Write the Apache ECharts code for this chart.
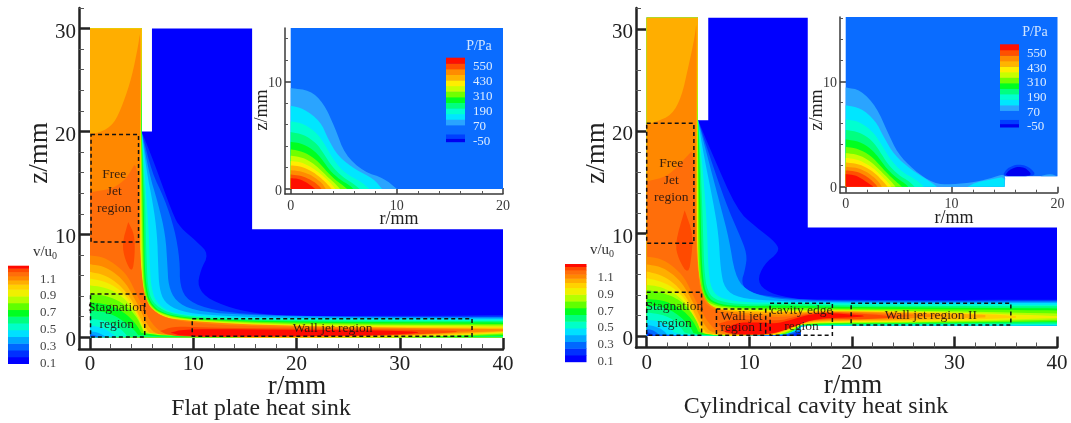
<!DOCTYPE html>
<html><head><meta charset="utf-8">
<style>html,body{margin:0;padding:0;background:#fff}#c{width:1071px;height:423px}</style>
<script src="https://cdn.jsdelivr.net/npm/echarts@6/dist/echarts.min.js"></script></head>
<body><div id="c"></div>
<script>
// ---- colour scale levels
const vLevels=[0.10,0.18,0.26,0.34,0.42,0.50,0.58,0.66,0.74,0.82,0.90,0.98,1.04,1.09,1.14,1.19,1.23,1.26];
const vColors=['#0000ff','#0030ff','#0068ff','#00a8ff','#00e0ff','#00ffc8','#00ff80','#00ff20','#60ff00','#b4ff00','#f0f000','#ffd200','#ffae00','#ff8800','#ff6e0a','#ff4a00','#ff0a00'];
const vTicks=[0.1,0.3,0.5,0.7,0.9,1.1];
const pLevels=[-50,-23,12,85,130,175,220,265,310,355,400,445,490,535,580,625];
const pColors=['#0000f0','#0040ff','#0a6cff','#2aa4ff','#00e6ff','#00ffd0','#00ff80','#00ff20','#70ff00','#c8ff00','#ffee00','#ffb400','#ff8c00','#ff5000','#ff1000'];
const pTicks=[-50,70,190,310,430,550];
const rTicks=[0,10,20,30,40], rMinor=[2,4,6,8,12,14,16,18,22,24,26,28,32,34,36,38];
const zTicks=[0,10,20,30], zMinor=[2,4,6,8,12,14,16,18,22,24,26,28,32];
const irTicks=[0,10,20], irMinor=[2,4,6,8,12,14,16,18];
const izTicks=[0,10], izMinor=[2,4,6,8,12,14,16];

// ---- flat plate velocity field: contours in [r,z] mm
const flatDomain=[[0,0],[40,0],[40,10.5],[15.7,10.5],[15.7,30],[6,30],[6,20],[5,20],[5,30],[0,30]];
const flatEnvelopes=[
[1,[[5,20],[6.2,17],[8,12],[8.7,10.7],[10.4,9.25],[11.5,8.1],[10.7,6.5],[10.4,4.9],[11.6,3.6],[14.5,2.6],[17.5,2.15],[22,2.05],[40,2.14]]],
[2,[[5,20],[6,16],[7.2,13.5],[8.2,10.5],[8.7,7.5],[8.7,5],[9.5,3.5],[12,2.6],[16,2.2],[24,2],[40,2]]],
[3,[[5,20],[5.7,16],[6.6,13],[7.3,10],[7.5,7],[7.6,5],[8.3,3.5],[10,2.6],[14,2.2],[24,1.95],[40,1.92]]],
[4,[[5,20],[5.5,16],[6.1,13],[6.5,10],[6.6,7],[6.7,4.8],[7.2,3.4],[8.7,2.5],[12,2.1],[20,1.85],[40,1.81]]],
[5,[[5,20],[5.3,16],[5.5,13],[5.7,10],[5.8,7],[5.9,5],[6.4,3.3],[8,2.3],[12,1.95],[20,1.75],[40,1.7]]],
[6,[[5,20],[5.2,16],[5.35,13],[5.4,10],[5.5,7],[5.6,5],[6,3.4],[7.5,2.35],[11,1.85],[20,1.62],[40,1.58]]],
[7,[[5,20],[5.1,16],[5.2,13],[5.25,10],[5.3,7],[5.45,5],[5.8,3.4],[7,2.3],[10,1.8],[20,1.5],[40,1.45]]],
[8,[[4.97,20],[5.05,16],[5.1,13],[5.15,10],[5.2,7],[5.3,5],[5.65,3.45],[6.7,2.35],[9.5,1.75],[20,1.38],[40,1.3]]],
[9,[[4.95,20],[5,13],[5.05,10],[5.1,7],[5.2,5],[5.5,3.5],[6.5,2.4],[9,1.7],[20,1.25],[40,1.17]]],
[10,[[4.92,20],[4.95,10],[5,7],[5.1,5],[5.4,3.5],[6.4,2.35],[8.8,1.62],[20,1.15],[40,1.05]]],
[11,[[4.9,20],[4.9,10],[4.95,7],[5.05,5],[5.35,3.5],[6.3,2.3],[8.6,1.55],[20,1.08],[40,.95]]],
[12,[[4.88,20],[4.85,10],[4.9,7],[5,5],[5.3,3.5],[6.2,2.25],[8.5,1.5],[20,1],[40,.85]]]];
const flatUpper=[
[13,[[0,19.8],[1,19.9],[2.3,20.7],[3.2,22.7],[4.05,25.3],[4.7,28.5],[4.88,30],[4.85,20],[4.8,10],[4.9,7],[5.1,5],[5.4,3.5],[6.3,2.3],[8.5,1.6],[20,1.05],[40,.78]]],
[14,[[0,14.1],[2,14.4],[3.2,15.1],[4,16.2],[4.4,17],[4.72,15],[4.75,10],[5,6],[5.3,4],[6,2.6],[8,1.6],[14,1.1],[25,.9],[37,.75]]]];
const flatLower=[
[13,[[0,7.96],[1.3,7.8],[2.6,7],[3.7,5.9],[4.5,4.2],[5.3,2.6],[6,1.3],[7.1,.3],[9,.15],[14,.05],[25,.08],[37,.62],[40,.72]]],
[12,[[0,7.1],[1.3,6.9],[2.5,6.2],[3.5,5.2],[4.3,3.8],[5,2.4],[5.6,1.1],[6.5,.2],[9,.08],[20,.06],[30,.2],[40,.62]]],
[11,[[0,6.35],[1.3,6.1],[2.5,5.4],[3.5,4.4],[4.2,3.3],[4.8,2],[5.4,.9],[6,.1],[12,.05],[25,.05],[32,.2],[40,.55]]],
[10,[[0,5.7],[1.2,5.5],[2.5,4.9],[3.5,4],[4.2,3],[4.8,1.7],[5.3,.7],[5.8,.05],[15,.03],[28,.03],[34,.15],[40,.48]]],
[9,[[0,5.05],[1.2,4.9],[2.5,4.4],[3.5,3.6],[4.3,2.6],[4.9,1.4],[5.5,0],[30,.02],[35,.1],[40,.42]]],
[8,[[0,4.2],[1.3,4.1],[2.7,3.6],[3.7,2.9],[4.5,2],[5,1],[5.4,0],[31,0],[40,.35]]],
[7,[[0,3.4],[1.5,3.25],[2.8,2.75],[3.8,2],[4.6,1.1],[5.2,0],[32,0],[40,.22]]],
[6,[[0,2.6],[1.5,2.45],[2.6,2],[3.6,1.3],[4.4,.6],[4.8,0],[34,0],[40,.12]]],
[5,[[0,1.8],[1.3,1.65],[2.3,1.25],[3.1,.7],[3.7,0]]],
[4,[[0,1.15],[1,1],[1.8,.6],[2.3,.25],[2.6,0]]],
[3,[[0,.6],[.8,.45],[1.3,.2],[1.6,0]]],
[2,[[0,.3],[.5,.2],[.9,0]]]];
const flatCores=[
[15,[[3.7,11.2],[3.1,9.1],[3.4,7.5],[4.1,6.2],[4.35,8.1],[4.3,10]]],
[15,[[6.8,.6],[8,1.05],[10,1],[14,.9],[28,.78],[38,.6],[28,.12],[14,.05],[9,.07],[7.5,.25]]],
[16,[[7.8,.45],[9,.78],[14,.78],[28,.68],[33,.5],[28,.16],[14,.07],[9,.1]]]];

// ---- cylindrical cavity velocity field
const cavDomain=[[0,0],[15,0],[15,1],[40,1],[40,10.6],[15.7,10.6],[15.7,31.1],[6,31.1],[6,21.1],[5,21.1],[5,31.1],[0,31.1]];
const cavEnvelopes=[
[1,[[5,21.1],[6.3,18],[8.8,12.3],[10.6,10.7],[12.7,9.05],[12.9,8.2],[11.4,7],[10.75,5.3],[11.9,4.2],[14.5,3.6],[17.4,3.55],[25,3.5],[40,3.55]]],
[2,[[5,21.1],[6,18],[7.7,13],[9,10],[9.8,8],[9.6,6.5],[9.2,5.2],[10,4.2],[12.5,3.8],[16,3.5],[25,3.42],[40,3.45]]],
[3,[[5,21.1],[5.8,18],[7.3,12.3],[8,9.6],[8.6,6],[9.6,4.5],[11.9,3.7],[16,3.4],[25,3.32],[40,3.35]]],
[4,[[5,21.1],[5.5,18],[6.5,13],[7,10],[7.2,6.5],[7.6,4.6],[9,3.7],[12,3.45],[16,3.3],[25,3.22],[40,3.22]]],
[5,[[5,21.1],[5.3,18],[5.7,13.5],[5.9,10],[6,6.5],[6.3,4.5],[7.3,3.6],[10,3.25],[14,3.3],[18,3.2],[25,3.1],[40,3.05]]],
[6,[[5,21.1],[5.2,18],[5.4,13],[5.5,10],[5.6,6.5],[5.9,4.3],[6.9,3.4],[9.5,3.05],[14,3.15],[18,3],[25,2.95],[40,2.9]]],
[7,[[5,21.1],[5.1,18],[5.25,13],[5.3,10],[5.4,6.5],[5.7,4.2],[6.6,3.2],[9,2.9],[14,3],[18,2.85],[25,2.8],[40,2.7]]],
[8,[[4.97,21],[5.1,13],[5.15,10],[5.25,6.5],[5.55,4.1],[6.4,3.1],[9,2.75],[14,2.75],[18,2.7],[25,2.65],[40,2.5]]],
[9,[[4.95,21],[5,10],[5.1,6.5],[5.4,4],[6.2,3],[9,2.65],[14,2.55],[18,2.6],[25,2.5],[40,2.2]]],
[10,[[4.92,21],[4.95,10],[5,6.5],[5.3,3.9],[6,2.9],[8.5,2.55],[14,2.45],[18,2.5],[25,2.4],[33,2.2],[40,1.95]]],
[11,[[4.9,21],[4.9,10],[4.97,6.5],[5.25,3.85],[5.95,2.85],[8.3,2.5],[14,2.4],[18,2.48],[25,2.38],[33,2.15],[36,1.95]]],
[12,[[4.88,21],[4.88,10],[4.95,6.5],[5.2,3.8],[5.9,2.8],[8,2.45],[14,2.3],[18,2.45],[25,2.3],[31,2.15],[33,2.05]]]];
const cavUpper=[
[13,[[0,20.7],[.8,20.9],[2.46,21.6],[3.4,23.4],[4.06,26.3],[4.7,29.3],[4.88,31.1],[4.85,21],[4.85,10],[5.05,6],[5.6,3.6],[6.6,2.7],[8.5,2.3],[12,2.1],[14,2.1],[16,2.35],[19,2.4],[26,2.2],[29,2.05]]],
[14,[[0,15.1],[2.1,15.6],[4.06,17.7],[4.5,18.2],[4.75,15],[4.75,10],[5,6],[5.4,3.6],[6.4,2.6],[8,2.15],[12,1.85],[14,1.9],[16,2.3],[19,2.35],[24,2.1],[26,2]]]];
const cavLower=[
[13,[[0,7.75],[1.3,7.6],[2.6,6.8],[3.7,5.7],[4.5,4],[5.3,2.5],[6,1.3],[7,.3],[10,.15],[12,.15],[13,.45],[14.5,1.05],[15,1.35],[16.5,1.6],[19,1.65],[24,1.75],[26,2],[29,2.05]]],
[12,[[0,7],[1.3,6.8],[2.5,6.1],[3.5,5.1],[4.3,3.7],[5,2.3],[5.6,1.1],[6.4,.2],[10,.1],[12,.1],[13,.38],[14.5,.95],[15,1.25],[16.5,1.5],[19,1.55],[25,1.65],[27,1.85],[30,2.02],[33,2.05]]],
[11,[[0,6.3],[1.3,6],[2.5,5.3],[3.5,4.3],[4.2,3.2],[4.8,1.9],[5.4,.8],[6,.1],[12,.08],[13,.33],[14.5,.9],[15,1.2],[16.5,1.42],[19,1.48],[25,1.55],[30,1.7],[36,1.95]]],
[10,[[0,5.65],[1.2,5.4],[2.5,4.8],[3.5,3.9],[4.2,2.9],[4.8,1.6],[5.3,.6],[5.8,.05],[12.3,.05],[13,.28],[14.5,.85],[15,1.15],[16.5,1.35],[19,1.4],[25,1.48],[32,1.6],[40,1.95]]],
[9,[[0,5],[1.2,4.85],[2.5,4.3],[3.5,3.5],[4.3,2.5],[4.9,1.3],[5.4,0],[12.4,0],[13,.24],[14.5,.8],[15,1.12],[16.5,1.3],[19,1.33],[25,1.4],[32,1.5],[40,1.75]]],
[8,[[0,4.5],[1.3,4.3],[2.7,3.8],[3.7,3.1],[4.5,2.1],[5.1,1],[5.35,0],[12.5,0],[13.2,.22],[14.5,.72],[15,1.1],[16.5,1.26],[19,1.28],[25,1.33],[32,1.42],[40,1.6]]],
[7,[[0,3.6],[1.5,3.5],[2.8,3],[3.9,2.2],[4.7,1.2],[5.2,0],[13.3,0],[14.5,.65],[15,1.08],[16.5,1.2],[19,1.22],[25,1.27],[32,1.32],[40,1.45]]],
[6,[[0,3],[1.5,2.85],[2.6,2.4],[3.6,1.6],[4.3,.8],[4.7,0],[13.2,0],[14.5,.6],[15,1.06],[19,1.16],[40,1.35]]],
[5,[[0,2.3],[1.5,2.1],[2.6,1.6],[3.3,.9],[3.9,0],[13.1,0],[14.5,.55],[15,1.04],[19,1.1],[40,1.2]]],
[4,[[0,1.6],[1.2,1.45],[2.2,.95],[2.9,0],[13,0],[14.5,.5],[15,1.02],[19,1.05],[40,1.1]]],
[3,[[0,1.1],[1,.9],[1.7,.5],[2.1,0],[13,0],[14.5,.45],[15,1],[19,1.02],[40,1.04]]],
[2,[[0,.7],[.8,.5],[1.3,0],[13.3,0],[14,.3],[15,.55]]],
[1,[[0,.4],[.5,.2],[.8,0],[13.7,0],[14.4,.25],[15,.38]]]];
const cavCores=[
[15,[[3.7,12.3],[2.76,9.06],[3.1,7.5],[4.06,5.95],[4.4,8],[4.5,10]]],
[15,[[7,1.2],[8.5,1.65],[11,1.6],[13,1.5],[14,1.75],[16,2.25],[19,2.32],[23,2.02],[25,1.85],[21,1.62],[18,1.68],[16,1.55],[14.5,1.12],[13,.5],[12,.15],[9,.1],[7.5,.3]]],
[16,[[7.6,.4],[8.5,1.3],[11,1.35],[12.5,1.2],[14,1.55],[16,2.15],[18,2.25],[22,1.95],[19,1.78],[16.5,1.7],[14.5,.98],[13,.42],[12,.2],[9,.15]]]];

// ---- pressure insets
const flatInsetDomain=[[0,0],[20,0],[20,15],[0,15]];
const flatPressure=[
[3,[[0,9.4],[1.8,9.2],[3.1,8],[4.2,5.65],[5.1,3.2],[6.9,1.6],[8.8,1],[10,0]]],
[4,[[0,7.75],[1.2,7.5],[2.8,6.3],[3.5,4.7],[4.5,3],[6.2,1.75],[7.8,.97],[8.6,0]]],
[5,[[0,6.3],[1.2,6.1],[2.5,5.2],[3.3,4],[4.1,2.6],[5.2,1.4],[6.6,.7],[7.4,0]]],
[6,[[0,5.3],[1.2,5.1],[2.4,4.3],[3.1,3.3],[3.9,2.1],[4.9,1.1],[5.9,.5],[6.5,0]]],
[7,[[0,4.4],[1.2,4.2],[2.3,3.5],[3,2.7],[3.7,1.7],[4.6,.9],[5.6,.3],[5.9,0]]],
[8,[[0,3.7],[1.1,3.5],[2.2,2.9],[2.9,2.2],[3.6,1.4],[4.4,.7],[5.1,.2],[5.3,0]]],
[9,[[0,3.1],[1.1,2.95],[2.1,2.4],[2.8,1.8],[3.5,1.1],[4.2,.5],[4.65,0]]],
[10,[[0,2.6],[1,2.5],[2,2],[2.7,1.5],[3.4,.9],[3.9,.4],[4.2,0]]],
[11,[[0,2.2],[1,2.1],[2,1.65],[2.7,1.15],[3.2,.7],[3.6,.3],[3.85,0]]],
[12,[[0,1.75],[1,1.65],[1.9,1.3],[2.5,.9],[3,.5],[3.3,0]]],
[13,[[0,1.35],[.9,1.25],[1.7,.95],[2.3,.6],[2.7,.25],[2.9,0]]],
[14,[[0,1],[.8,.95],[1.5,.6],[2,.25],[2.3,0]]]];
const cavInsetDomain=[[0,0],[15,0],[15,1],[20,1],[20,16.15],[0,16.15]];
const cavPressure=[
[3,[[0,9.45],[1.4,9.2],[2.9,7.6],[4,5.1],[4.9,3.2],[6.4,1.6],[8.3,.3],[10,.2],[12.3,.45],[14,.9],[15.1,1.25],[15,0]]],
[3,[[18.4,1],[18.9,1.15],[19.4,1.2],[20,1]]],
[4,[[0,7.75],[1.4,7.5],[2.8,6.3],[3.6,4.7],[4.6,3],[6.2,1.6],[7.8,.6],[8.6,0]]],
[4,[[11.5,0],[12.3,.4],[14,.75],[15,.95],[15,0]]],
[5,[[0,6.4],[1.3,6.2],[2.6,5.2],[3.4,4],[4.2,2.6],[5.3,1.4],[6.6,.7],[7.4,0]]],
[6,[[0,5.4],[1.3,5.2],[2.5,4.4],[3.2,3.4],[4,2.1],[5,1.1],[6,.5],[6.5,0]]],
[7,[[0,4.5],[1.3,4.3],[2.4,3.6],[3.1,2.8],[3.8,1.8],[4.7,.9],[5.6,.3],[5.9,0]]],
[8,[[0,3.8],[1.2,3.6],[2.3,3],[3,2.3],[3.7,1.5],[4.5,.7],[5.1,.2],[5.3,0]]],
[9,[[0,3.2],[1.2,3.05],[2.2,2.5],[2.9,1.9],[3.6,1.2],[4.3,.5],[4.7,0]]],
[10,[[0,2.75],[1.1,2.6],[2.1,2.1],[2.8,1.6],[3.5,.9],[4,.4],[4.3,0]]],
[11,[[0,2.3],[1.1,2.2],[2.1,1.75],[2.8,1.25],[3.3,.75],[3.7,.3],[3.95,0]]],
[12,[[0,1.9],[1.1,1.8],[2,1.4],[2.6,.95],[3.1,.5],[3.4,0]]],
[13,[[0,1.55],[1,1.45],[1.8,1.1],[2.4,.65],[2.8,.25],[3,0]]],
[14,[[0,1.2],[.9,1.1],[1.6,.7],[2.2,.3],[2.6,0]]],
[1,[[14.9,1.2],[15.2,1.7],[15.8,2],[16.3,2.12],[17,2],[17.5,1.7],[17.9,1.25],[17.6,1],[15.1,1]]],
[0,[[15.1,1.15],[15.4,1.55],[15.9,1.8],[16.3,1.9],[16.9,1.8],[17.3,1.5],[17.5,1.2],[17.3,1.03],[15.3,1.03]]]];

// ---- annotated regions: name lines, box [r0,z0,r1,z1], label centre [r,z], line spacing
const flatRegions=[
['Free\nJet\nregion',[0.1,9.25,4.7,19.7],[2.35,14.2],17],
['Stagnation\nregion',[0.05,.03,5.3,4.2],[2.6,2.05],17],
['Wall jet region',[9.9,.1,37,1.8],[23.5,.9],17]];
const cavRegions=[
['Free\nJet\nregion',[0,9.06,4.6,20.8],[2.4,15.2],17],
['Stagnation\nregion',[0,.07,5.35,4.27],[2.7,2.1],17],
['Wall jet\nregion I',[6.8,.07,11.6,2.64],[9.25,1.39],11],
['cavity edge\nregion',[12.03,.07,18.1,3.2],[15.1,1.73],16.5],
['Wall jet region II',[19.93,1.07,35.5,3.2],[27.7,2.05],17]];

const FONT='"Liberation Serif","Times New Roman",serif';
function chaikin(p,n){
  for(let k=0;k<n;k++){const o=[p[0]];
    for(let i=0;i<p.length-1;i++){const a=p[i],b=p[i+1];
      o.push([a[0]*.75+b[0]*.25,a[1]*.75+b[1]*.25],[a[0]*.25+b[0]*.75,a[1]*.25+b[1]*.75]);}
    o.push(p[p.length-1]);p=o;}
  return p;
}
function fieldPolys(domain,head,envs,upper,lower,cores,closure){
  const out=[[0,domain]];
  envs.forEach(([b,p])=>out.push([b,head.concat(chaikin(p,2),closure(p))]));
  upper.forEach(([b,p])=>out.push([b,chaikin(p,2).concat(closure(p))]));
  lower.forEach(([b,p])=>out.push([b,chaikin(p,2).concat(closure(p))]));
  cores.forEach(([b,p])=>out.push([b,chaikin(p.concat([p[0]]),2)]));
  return out;
}
const flatClose=p=>{const e=p[p.length-1];return [[e[0],0],[0,0]];};
const cavClose=p=>{const e=p[p.length-1];return e[0]>15?[[e[0],1],[15,1],[15,0],[0,0]]:[[15,0],[0,0]];};
function pressurePolys(domain,list){
  const out=[[2,domain]];
  list.forEach(([b,p])=>{const a=p[0][0]===0;out.push([b,a?chaikin(p,2).concat([[0,0]]):chaikin(p,1)]);});
  return out;
}
const flatField=fieldPolys(flatDomain,[[0,30],[5,30]],flatEnvelopes,flatUpper,flatLower,flatCores,flatClose);
const cavField=fieldPolys(cavDomain,[[0,31.1],[5,31.1]],cavEnvelopes,cavUpper,cavLower,cavCores,cavClose);

function polySeries(g,polys,colors){
  return {type:'custom',xAxisIndex:g*2,yAxisIndex:g*2,silent:true,animation:false,clip:false,
    data:polys.map((_,i)=>[i]),encode:{x:0,y:0},
    renderItem:(ps,api)=>{const [b,pts]=polys[ps.dataIndex];
      return {type:'polygon',shape:{points:pts.map(q=>api.coord(q))},style:{fill:colors[b]}};}};
}
function regionSeries(g,regs){
  return {type:'custom',xAxisIndex:g*2,yAxisIndex:g*2,silent:true,animation:false,clip:false,z:5,
    data:regs.map((_,i)=>[i]),encode:{x:0,y:0},
    renderItem:(ps,api)=>{const [t,b,c,lh]=regs[ps.dataIndex];
      const p=api.coord([b[0],b[3]]),q=api.coord([b[2],b[1]]),m=api.coord(c);
      return {type:'group',children:[
       {type:'rect',shape:{x:p[0],y:p[1],width:q[0]-p[0],height:q[1]-p[1]},style:{fill:null,stroke:'#111',lineWidth:1.5,lineDash:[4,3]}},
       {type:'text',x:m[0],y:m[1],style:{text:t,fill:'rgba(35,20,15,.9)',font:'13.5px '+FONT,lineHeight:lh,align:'center',verticalAlign:'middle'}}]};}};
}
function barSeries(g,levels,colors){
  return {type:'custom',xAxisIndex:g,yAxisIndex:g,silent:true,animation:false,z:6,
    data:colors.map((_,i)=>[i]),encode:{x:0,y:0},
    renderItem:(ps,api)=>{const i=ps.dataIndex;
      const a=api.coord([0,levels[i]]),b=api.coord([1,levels[i+1]]);
      return {type:'rect',shape:{x:a[0],y:b[1],width:b[0]-a[0],height:a[1]-b[1]+.5},style:{fill:colors[i]}};}};
}
const grids=[],xAxes=[],yAxes=[],series=[];
function plotAxes(box,xr,yr,major,minor,s){
  const g=grids.length;
  grids.push({left:box[0],top:box[1],width:box[2]-box[0],height:box[3]-box[1],containLabel:false});
  const lab={fontFamily:FONT,fontSize:s.font,color:s.color};
  const lineStyle={color:s.color,width:s.lw};
  const axis=(r,maj,min,pos,isX)=>[
    {type:'value',gridIndex:g,min:r[0],max:r[1],position:pos,splitLine:{show:false},
     axisLine:{show:true,onZero:false,lineStyle},
     axisTick:{show:true,inside:true,length:s.mt,customValues:maj,lineStyle:{color:s.color,width:s.lw}},
     axisLabel:{show:true,customValues:maj,...lab,margin:isX?s.mx:s.my,
       formatter:isX?undefined:(v=>'{a|'+v+'}'),
       rich:isX?undefined:{a:{...lab,padding:[s.pad,0,0,0]}}}},
    {type:'value',gridIndex:g,min:r[0],max:r[1],position:pos,splitLine:{show:false},
     axisLine:{show:false,onZero:false},
     axisTick:{show:true,inside:true,length:s.nt,customValues:min,lineStyle:{color:'#555',width:1}},
     axisLabel:{show:false}}];
  const xa=axis(xr,major[0],minor[0],'bottom',true),ya=axis(yr,major[1],minor[1],'left',false);
  xAxes.push(xa[0],xa[1]);yAxes.push(ya[0],ya[1]);
  return g;
}
const mainS={font:21,color:'#222',lw:2.5,mt:11,nt:5,mx:5,my:3,pad:7};
const insS={font:14,color:'#3a3a3a',lw:1.5,mt:6,nt:3,mx:5,my:3,pad:4};
plotAxes([79,8,503,349],[-1.067,40],[-1.136,32],[rTicks,zTicks],[rMinor,zMinor],mainS);
plotAxes([285,28,503,194],[-.538,20],[-.466,15],[irTicks,izTicks],[irMinor,izMinor],insS);
plotAxes([636,8,1057,347.5],[-1.044,40],[-1.124,32.06],[rTicks,zTicks],[rMinor,zMinor],mainS);
plotAxes([840,17,1057.5,192.7],[-.539,20],[-.571,16.15],[irTicks,izTicks],[irMinor,izMinor],insS);
series.push(polySeries(0,flatField,vColors),regionSeries(0,flatRegions));
series.push(polySeries(1,pressurePolys(flatInsetDomain,flatPressure),pColors));
series.push(polySeries(2,cavField,vColors),regionSeries(2,cavRegions));
series.push(polySeries(3,pressurePolys(cavInsetDomain,cavPressure),pColors));

function colorbar(box,levels,colors,ticks,font,color,margin){
  const g=grids.length, idx=xAxes.length;
  grids.push({left:box[0],top:box[1],width:box[2]-box[0],height:box[3]-box[1]});
  xAxes.push({type:'value',gridIndex:g,min:0,max:1,show:false});
  yAxes.push({type:'value',gridIndex:g,z:8,min:levels[0],max:levels[levels.length-1],position:'right',
    splitLine:{show:false},axisLine:{show:false},axisTick:{show:false},
    axisLabel:{show:true,customValues:ticks,fontFamily:FONT,fontSize:font,color,margin,
      formatter:v=>Math.abs(v)<5?v.toFixed(1):String(v)}});
  series.push(barSeries(idx,levels,colors));
}
colorbar([8,265.7,29,363.5],vLevels,vColors,vTicks,13,'#444',11);
colorbar([565,264,586.5,361.7],vLevels,vColors,vTicks,13,'#444',11);
colorbar([446,57.7,465,141.7],pLevels,pColors,pTicks,13,'#dcecff',8);
colorbar([1000,44.3,1019,127],pLevels,pColors,pTicks,13,'#dcecff',8);

const T=(x,y,text,size,extra)=>({type:'text',x,y,silent:true,z:20,
  style:Object.assign({text,font:size+'px '+FONT,fill:'#222',align:'center',verticalAlign:'middle'},extra||{})});
const rich={a:{fontFamily:FONT,fontSize:15,fill:'#333',color:'#333'},b:{fontFamily:FONT,fontSize:10,fill:'#333',color:'#333',verticalAlign:'bottom',padding:[8,0,0,0]}};
const graphic=[
 T(297,387,'r/mm',27),T(853,386,'r/mm',27),
 Object.assign(T(40,153,'z/mm',27),{rotation:Math.PI/2}),
 Object.assign(T(597,153,'z/mm',27),{rotation:Math.PI/2}),
 T(399,219,'r/mm',18),T(954,218,'r/mm',18),
 Object.assign(T(262,110,'z/mm',18),{rotation:Math.PI/2}),
 Object.assign(T(817,110,'z/mm',18),{rotation:Math.PI/2}),
 T(261,409,'Flat plate heat sink',23.7),T(816,407,'Cylindrical cavity heat sink',24),
 T(479,46,'P/Pa',14,{fill:'#cfe4ff'}),T(1035,32,'P/Pa',14,{fill:'#cfe4ff'}),
 T(45,252,'{a|v/u}{b|0}',15,{rich}),T(602,250,'{a|v/u}{b|0}',15,{rich})
];
const chart=echarts.init(document.getElementById('c'),null,{renderer:'canvas'});
chart.setOption({animation:false,backgroundColor:'#fff',grid:grids,xAxis:xAxes,yAxis:yAxes,series,graphic});
</script></body></html>
